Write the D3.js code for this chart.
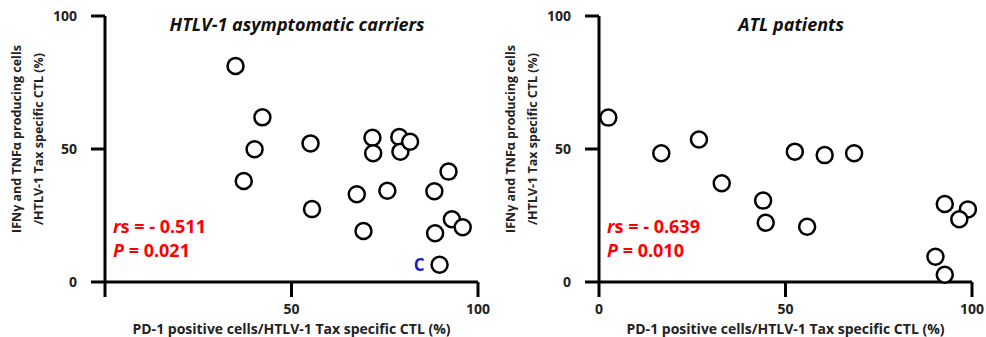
<!DOCTYPE html>
<html>
<head>
<meta charset="utf-8">
<script src="https://cdn.jsdelivr.net/npm/d3@7"></script>
<style>
body{margin:0;background:#fff;}
text{font-family:"Open Sans",Lato,sans-serif;font-weight:bold;}
</style>
</head>
<body>
<svg width="986" height="337"></svg>
<script>
// HTLV-1 asymptomatic carriers: PD-1+ (%) vs IFNg/TNFa producing (%)
var acX = [35.0,42.2,40.1,55.1,71.7,71.9,78.9,79.2,81.8,92.1,37.2,55.5,67.5,75.7,88.3,69.3,93.0,95.9,88.5,89.7];
var acY = [81.2,61.9,49.9,52.1,54.2,48.4,54.5,49.0,52.7,41.5,38.0,27.4,33.0,34.3,34.1,19.2,23.6,20.6,18.3,6.5];
// ATL patients
var atlX = [2.5,16.7,26.8,52.5,60.5,68.4,32.9,44.0,44.7,55.8,92.7,98.9,96.6,90.2,92.7];
var atlY = [61.8,48.4,53.6,49.0,47.7,48.4,37.1,30.6,22.3,20.8,29.3,27.3,23.6,9.5,2.7];
var yTicks = [0,50,100];
var titles = ['HTLV-1 asymptomatic carriers','ATL patients'];
var rsText = ['- 0.511','- 0.639'];
var pText = ['0.021','0.010'];

var svg = d3.select('svg');

function panel(ox, xs, ys, title, rs, p, xTicks){
  var x = d3.scaleLinear().domain([0,100]).range([ox, ox+373]);
  var y = d3.scaleLinear().domain([0,100]).range([282,16]);
  var g = svg.append('g');

  // axes drawn as lines so the ticks cross like the original
  g.append('line').attr('x1',ox-14).attr('x2',x(100)).attr('y1',y(0)).attr('y2',y(0))
    .attr('stroke','#000').attr('stroke-width',3);
  g.append('line').attr('x1',ox).attr('x2',ox).attr('y1',y(100)).attr('y2',y(0)+15)
    .attr('stroke','#000').attr('stroke-width',3);
  yTicks.forEach(function(t){
    if(t>0) g.append('line').attr('x1',ox-14).attr('x2',ox).attr('y1',y(t)).attr('y2',y(t))
      .attr('stroke','#000').attr('stroke-width',3);
    g.append('text').attr('x',ox-28).attr('y',y(t)+5).attr('text-anchor','end')
      .attr('font-size',14).attr('fill','#222').text(t);
  });
  xTicks.forEach(function(t){
    if(t>0) g.append('line').attr('x1',x(t)).attr('x2',x(t)).attr('y1',y(0)).attr('y2',y(0)+15)
      .attr('stroke','#000').attr('stroke-width',3);
    g.append('text').attr('x',x(t)).attr('y',314).attr('text-anchor','middle')
      .attr('font-size',14).attr('fill','#222').text(t);
  });

  g.append('text').attr('x',x(51.5)).attr('y',31).attr('text-anchor','middle')
    .attr('font-size',18).attr('font-style','italic').attr('fill','#111').text(title);

  g.append('text').attr('x',x(50)).attr('y',334).attr('text-anchor','middle')
    .attr('font-size',14).attr('fill','#222').text('PD-1 positive cells/HTLV-1 Tax specific CTL (%)');

  var yt = g.append('text').attr('transform','translate('+(ox-84)+',139) rotate(-90)')
    .attr('text-anchor','middle').attr('font-size',12.5).attr('fill','#222');
  yt.append('tspan').attr('x',0).attr('dy',0).text('IFNγ and TNFα producing cells');
  yt.append('tspan').attr('x',0).attr('dy',22).text('/HTLV-1 Tax specific CTL (%)');

  var s1 = g.append('text').attr('x',ox+8).attr('y',233).attr('font-size',18).attr('fill','#ff0000');
  s1.append('tspan').attr('font-style','italic').text('r');
  s1.append('tspan').text('s = '+rs);
  var s2 = g.append('text').attr('x',ox+8).attr('y',257).attr('font-size',18).attr('fill','#ff0000');
  s2.append('tspan').attr('font-style','italic').text('P');
  s2.append('tspan').text(' = '+p);

  g.selectAll('circle').data(xs).enter().append('circle')
    .attr('cx',function(d){return x(d);})
    .attr('cy',function(d,j){return y(ys[j]);})
    .attr('r',8).attr('fill','#fff').attr('stroke','#000').attr('stroke-width',2.5);
  return {x:x,y:y,g:g};
}

var a = panel(105, acX, acY, titles[0], rsText[0], pText[0], [50,100]);
var b = panel(599, atlX, atlY, titles[1], rsText[1], pText[1], [0,50,100]);

// blue "C" label beside the lowest carrier point
a.g.append('text').attr('x',a.x(acX[19])-15).attr('y',a.y(acY[19])+6).attr('text-anchor','end')
  .attr('font-size',17).attr('fill','#1a1acc').text('C');
</script>
</body>
</html>
